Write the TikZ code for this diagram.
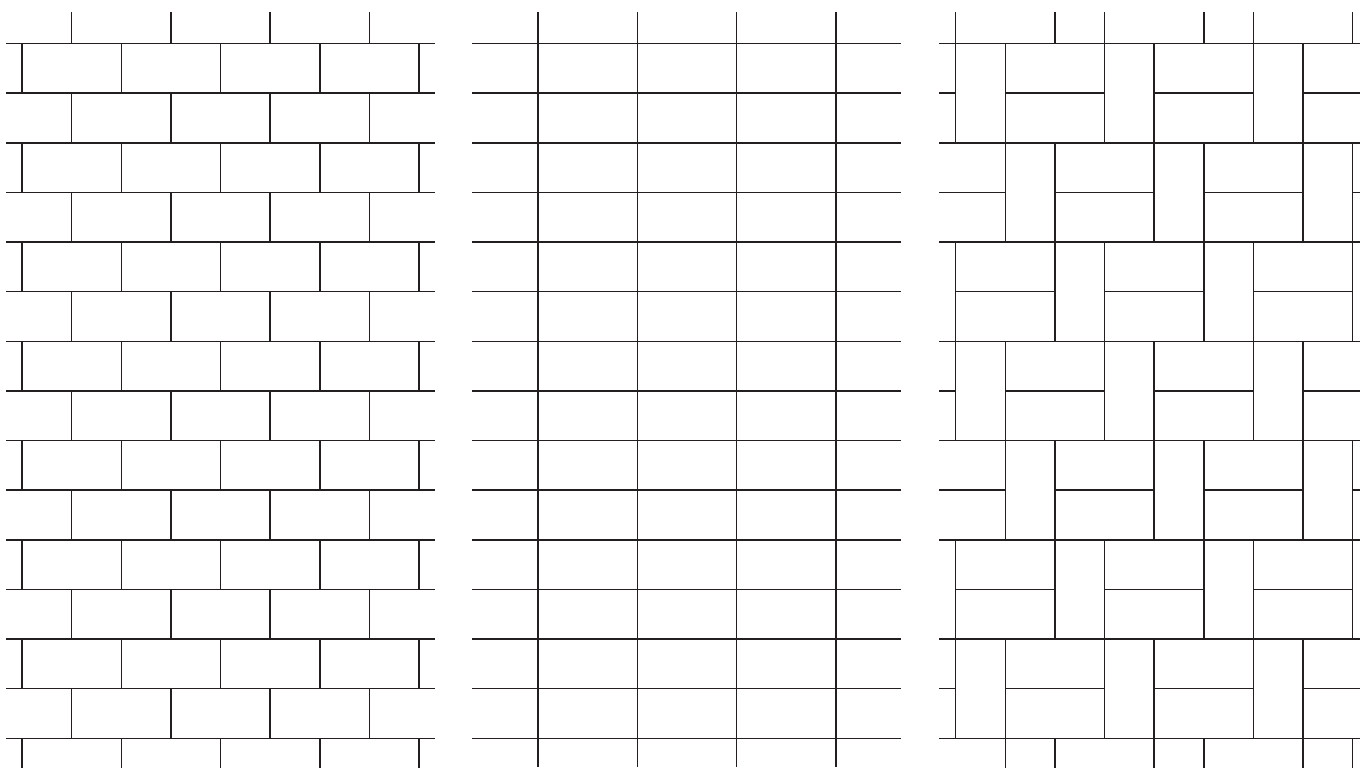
\documentclass[tikz,border=0pt]{standalone}
\usepackage{xcolor}
\definecolor{mortar}{RGB}{35,31,32}
\usetikzlibrary{calc}

\begin{document}
\begin{tikzpicture}[x=1cm, y=-1cm, joint/.style={draw=mortar, line width=0.85pt}]
  \useasboundingbox (0,0) rectangle (27.403,15.455);

  % Panel 1: running bond, every course shifted by half a brick
  \begin{scope}
    \clip (0.121,0.242) rectangle (8.765,15.455);
    \foreach \k in {0,...,14}
      \draw[joint] (0.121,0.877+\k) -- (8.765,0.877+\k);
    \foreach \r in {0,...,15} {
      \pgfmathsetmacro{\shift}{mod(\r+1,2)}
      \foreach \k in {0,...,4}
        \draw[joint] (0.443+\shift+2*\k,\r-0.123) -- ++(0,1);
    }
  \end{scope}

  % Panel 2: stack bond, joints in line
  \begin{scope}
    \clip (9.510,0.242) rectangle (18.154,15.455);
    \foreach \k in {0,...,14}
      \draw[joint] (9.510,0.877+\k) -- (18.154,0.877+\k);
    \foreach \k in {0,...,3}
      \draw[joint] (10.840+2*\k,0.242) -- (10.840+2*\k,15.455);
  \end{scope}

  % Panel 3: basket weave, one upright brick next to a pair of flat bricks
  \begin{scope}
    \clip (18.920,0.242) rectangle (27.403,15.455);
    \foreach \i in {-1,...,7} {
      \pgfmathsetmacro{\rowy}{0.877+2*\i}
      \foreach \m in {-3,...,3} {
        \pgfmathsetmacro{\colx}{19.256+\i+3*\m}
        \draw[joint] (\colx,\rowy) rectangle ++(1,2);
        \draw[joint] (\colx+1,\rowy) rectangle ++(2,2);
        \draw[joint] (\colx+1,\rowy+1) -- ++(2,0);
      }
    }
  \end{scope}
\end{tikzpicture}
\end{document}
